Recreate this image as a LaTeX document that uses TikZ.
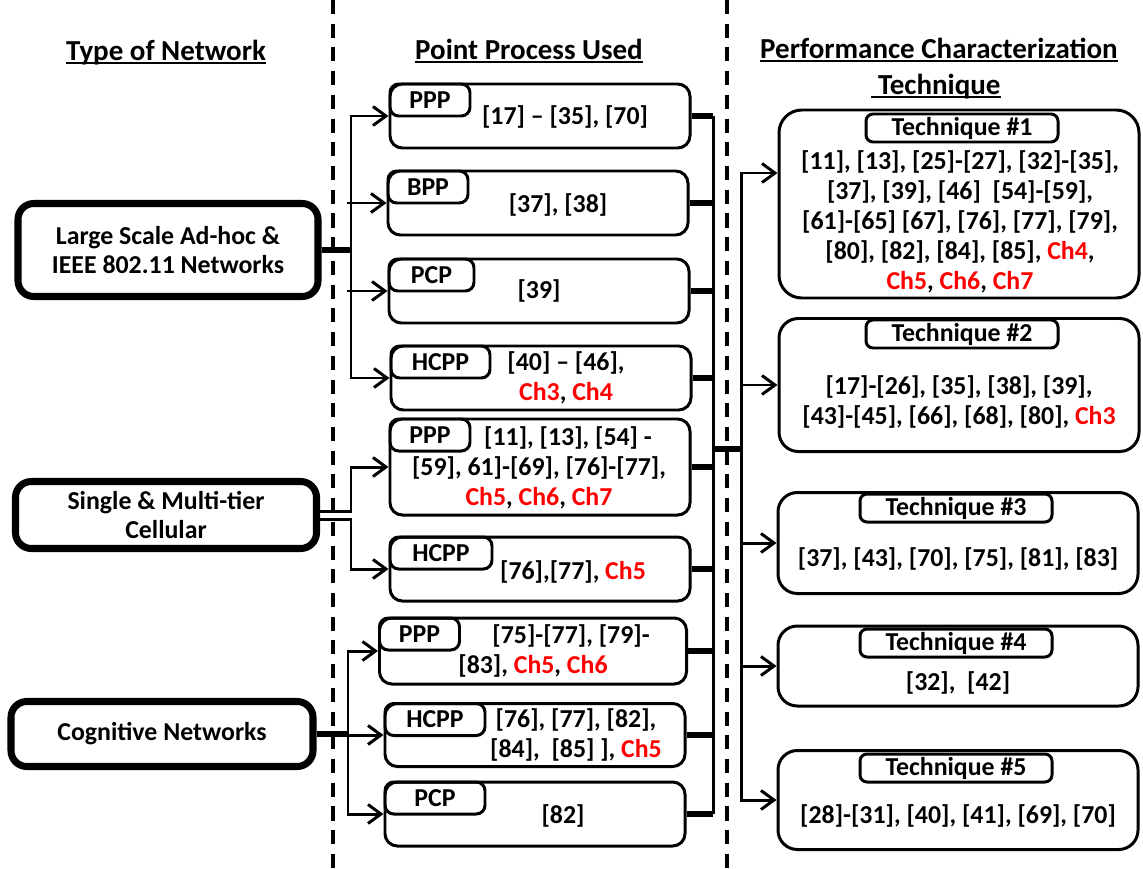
\documentclass[tikz,border=0pt]{standalone}
\usepackage{fontspec}
\setmainfont{Carlito}
\usetikzlibrary{calc,arrows.meta}

\newdimen\pix \pix=0.02cm
\newcommand{\ulhead}[1]{\setbox0\hbox{#1}\rlap{\rule[-2.4pt]{\wd0}{1.1pt}}\box0}
\newcommand{\redch}[1]{\textcolor{red}{#1}}

\begin{document}
\begin{tikzpicture}[x=0.02cm,y=-0.02cm,line width=1.7pt,
  >={Straight Barb[length=2.6mm,width=3.8mm]},
  every node/.style={font=\bfseries\fontsize{14.7}{17}\selectfont,inner sep=0pt},
  head/.style={font=\bfseries\fontsize{16.5}{20}\selectfont,anchor=base},
  net/.style={draw,line width=4pt,rounded corners=9pt,align=center},
  pbox/.style={draw,rounded corners=7pt,minimum width=300\pix,minimum height=64\pix},
  ptab/.style={draw,rounded corners=5pt,anchor=north west,minimum height=32\pix},
  tbox/.style={draw,rounded corners=11pt,minimum width=360\pix},
  ttab/.style={draw,rounded corners=4pt,minimum width=192\pix,minimum height=28\pix},
  ref/.style={align=center},
  stub/.style={line width=3.2pt},
  sep/.style={line width=2pt,dash pattern=on 8pt off 5.5pt}]
  \useasboundingbox (0,0) rectangle (1143,869);

  % column separators
  \draw[sep] (333,0) -- (333,869);
  \draw[sep] (727,0) -- (727,869);

  % column titles
  \node[head] (hnet) at (166,60) {\ulhead{Type of Network}};
  \node[head] (hpp) at (529,59) {\ulhead{Point Process Used}};
  \node[head] (hperf) at (939,58) {\ulhead{Performance Characterization}};
  \node[head] (hperf2) at (936,94) {\ulhead{\ Technique}};

  % network types
  \node[net,minimum width=300\pix,minimum height=93\pix] (adhoc) at (168,250) {Large Scale Ad-hoc \&\\IEEE 802.11 Networks};
  \node[net,minimum width=301\pix,minimum height=67\pix] (cell) at (166,515) {Single \& Multi-tier\\Cellular};
  \node[net,minimum width=302\pix,minimum height=65\pix] (cog) at (162,734) {Cognitive Networks};

  % point processes
  \node[pbox] (pp1) at (540,116) {};
  \node[ptab,minimum width=80\pix] (pp1t) at (pp1.north west) {PPP};
  \node[ref] (pp1r) at (565,117) {[17] – [35], [70]};

  \node[pbox] (pp2) at (538,203) {};
  \node[ptab,minimum width=80\pix] (pp2t) at (pp2.north west) {BPP};
  \node[ref] (pp2r) at (558,205) {[37], [38]};

  \node[pbox] (pp3) at (539,291) {};
  \node[ptab,minimum width=85\pix] (pp3t) at (pp3.north west) {PCP};
  \node[ref] (pp3r) at (539,291) {[39]};

  \node[pbox] (pp4) at (541,378) {};
  \node[ptab,minimum width=99\pix] (pp4t) at (pp4.north west) {HCPP};
  \node[ref] (pp4r) at (566,378) {[40] – [46],\\\redch{Ch3}, \redch{Ch4}};

  \node[pbox,minimum height=96\pix] (pp5) at (540,467) {};
  \node[ptab,minimum width=80\pix] (pp5t) at (pp5.north west) {PPP};
  \node[ref] (pp5r) at (539,468) {\hspace*{58\pix}[11], [13], [54] -\\{}[59], 61]-[69], [76]-[77],\\\redch{Ch5}, \redch{Ch6}, \redch{Ch7}};

  \node[pbox] (pp6) at (540,569) {};
  \node[ptab,minimum width=102\pix] (pp6t) at (pp6.north west) {HCPP};
  \node[ref] (pp6r) at (573,572) {[76],[77], \redch{Ch5}};

  \node[pbox,minimum width=307\pix,minimum height=66\pix] (pp7) at (533,651) {};
  \node[ptab,minimum width=80\pix] (pp7t) at (pp7.north west) {PPP};
  \node[ref] (pp7r) at (533,651) {\hspace*{76\pix}[75]-[77], [79]-\\{}[83], \redch{Ch5}, \redch{Ch6}};

  \node[pbox,minimum height=63\pix] (pp8) at (535,735) {};
  \node[ptab,minimum width=100\pix] (pp8t) at (pp8.north west) {HCPP};
  \node[ref] (pp8r) at (576,735) {[76], [77], [82],\\{}[84],\ \ [85] ], \redch{Ch5}};

  \node[pbox] (pp9) at (535,814) {};
  \node[ptab,minimum width=100\pix] (pp9t) at (pp9.north west) {PCP};
  \node[ref] (pp9r) at (563,816) {[82]};

  % characterization techniques
  \node[tbox,rounded corners=13pt,minimum height=188\pix] (tech1) at (959,204) {};
  \node[ttab] (tech1t) at (962,128) {Technique \#1};
  \node[ref] (tech1r) at (960,222) {[11], [13], [25]-[27], [32]-[35],\\{}[37], [39], [46]\ \ [54]-[59],\\{}[61]-[65] [67], [76], [77], [79],\\{}[80], [82], [84], [85], \redch{Ch4},\\\redch{Ch5}, \redch{Ch6}, \redch{Ch7}};

  \node[tbox,minimum height=133\pix] (tech2) at (959,385) {};
  \node[ttab] (tech2t) at (962,334) {Technique \#2};
  \node[ref] (tech2r) at (959,402) {[17]-[26], [35], [38], [39],\\{}[43]-[45], [66], [68], [80], \redch{Ch3}};

  \node[tbox,minimum height=101\pix] (tech3) at (958,543) {};
  \node[ttab] (tech3t) at (956,508) {Technique \#3};
  \node[ref] (tech3r) at (958,559) {[37], [43], [70], [75], [81], [83]};

  \node[tbox,minimum height=80\pix] (tech4) at (958,666) {};
  \node[ttab] (tech4t) at (956,643) {Technique \#4};
  \node[ref] (tech4r) at (958,683) {[32],\ \ [42]};

  \node[tbox,minimum height=99\pix] (tech5) at (958,800) {};
  \node[ttab] (tech5t) at (956,768) {Technique \#5};
  \node[ref] (tech5r) at (958,816) {[28]-[31], [40], [41], [69], [70]};

  % bus lines
  \coordinate (busA) at (351,0);
  \coordinate (busD) at (348,0);
  \coordinate (busB) at (713,0);
  \coordinate (busC) at (741,0);
  \coordinate (mergeL) at (713,449);
  \coordinate (mergeR) at (741,449);
  \coordinate (t1in) at ($(tech1.west)+(0,-31)$);

  % ad-hoc -> processes
  \draw[stub] (adhoc.east) -- (busA |- adhoc.east);
  \draw[<->] (pp4.west) -- (busA |- pp4.west) -- (busA |- pp1.west) -- (pp1.west);
  \foreach \n in {2,3} \draw[->] ($(busA |- pp\n.west)+(-4,0)$) -- (pp\n.west);

  % cellular -> processes
  \draw[->] ($(cell.east)+(0,-4)$) -- ($(busA |- cell.east)+(0,-4)$) |- (pp5.west);
  \draw[->] ($(cell.east)+(0,4)$) -- ($(busA |- cell.east)+(0,4)$) |- (pp6.west);

  % cognitive -> processes
  \draw[stub] (cog.east) -- (busD |- cog.east);
  \draw[<->] (pp9.west) -- (busD |- pp9.west) -- (busD |- pp7.west) -- (pp7.west);
  \draw[->] (busD |- pp8.west) -- (pp8.west);

  % processes -> techniques
  \foreach \n in {1,...,9} \draw[stub] (pp\n.east) -- (busB |- pp\n.east);
  \draw (busB |- pp1.east) -- (busB |- pp9.east);
  \draw[stub] (mergeL) -- (mergeR);
  \draw[<->] (tech5.west) -- (busC |- tech5.west) -- (busC |- t1in) -- (t1in);
  \foreach \n in {2,3,4} \draw[->] (busC |- tech\n.west) -- (tech\n.west);
\end{tikzpicture}
\end{document}
